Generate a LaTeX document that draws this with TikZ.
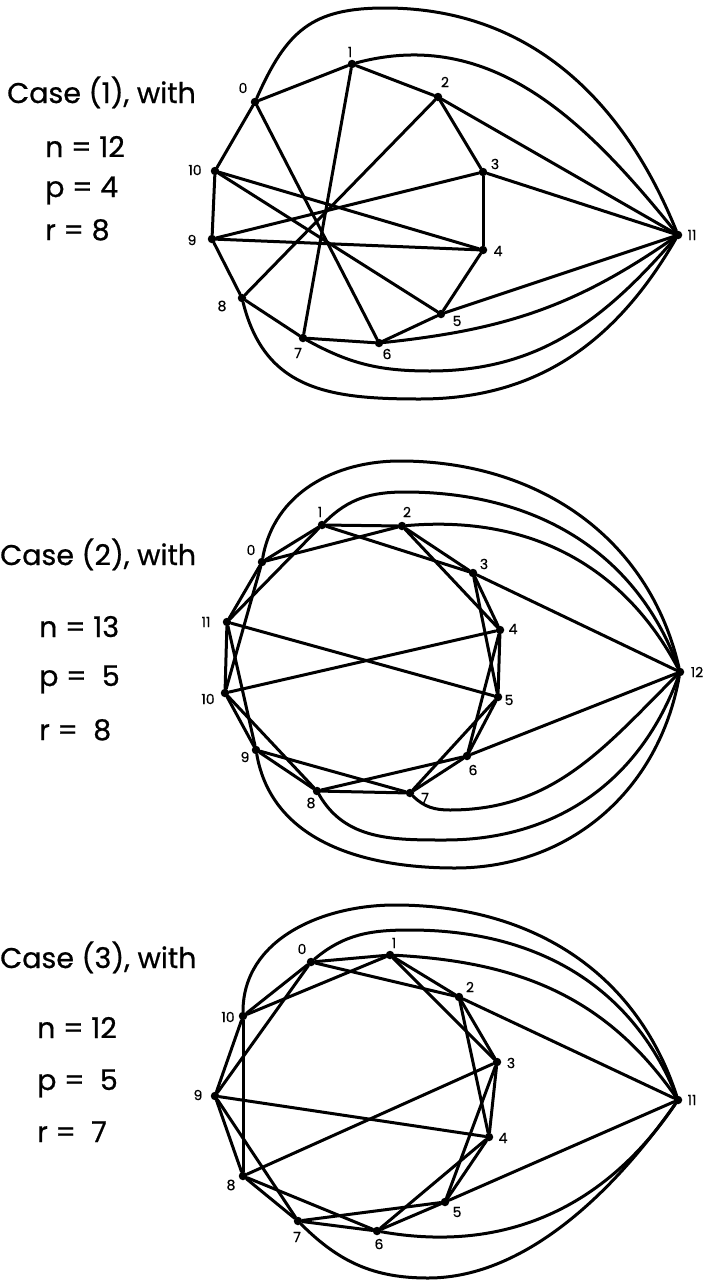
\documentclass[tikz,border=0pt]{standalone}
\usepackage{fontspec}
\setmainfont{Poppins}
\newfontfamily\ttlfont{Poppins}[FakeBold=0.7]
\newfontfamily\labfont{Poppins}[FakeBold=0.5]
\begin{document}
\begin{tikzpicture}[x=1pt,y=1pt,
  dot/.style={circle,fill=black,inner sep=0pt,minimum size=8.5pt},
  lab/.style={inner sep=0pt,font=\labfont\fontsize{14}{14}\selectfont},
  ttl/.style={inner sep=0pt,anchor=base west,font=\ttlfont\fontsize{28.5}{30}\selectfont},
  edge/.style={line width=3pt,line join=round,line cap=round},
]
\useasboundingbox (0,0) rectangle (709,-1280);

% ---------------- Case 1 ----------------
\node[ttl] (t1) at (7,-103) {Case (1), with};
\node[ttl] (n1) at (45,-157) {n = 12};
\node[ttl] (p1) at (45,-197) {p = 4};
\node[ttl] (r1) at (45,-240) {r = 8};

\foreach \i/\x/\y in {0/255/102,1/352/64,2/438/97,3/483/172,4/483/250,5/441/314,
  6/379/343,7/303/338,8/242/298,9/212/239,10/215/171,11/678/235}
  \node[dot] (A\i) at (\x,-\y) {};
\foreach \i/\x/\y in {0/243/88,1/350/52,2/445/82,3/495/164,4/498/251,5/457/321,
  6/387/354,7/298/353,8/222/306,9/192/240,10/195/170,11/692/235}
  \node[lab] (Al\i) at (\x,-\y) {\i};

\foreach \a/\b in {0/1,1/2,2/3,3/4,4/5,5/6,6/7,7/8,8/9,9/10,10/0,
  0/6,1/7,2/8,3/9,4/9,4/10,5/10,2/11,3/11,5/11}
  \draw[edge] (A\a) -- (A\b);
\draw[edge] (A0) to[out=66,in=180,looseness=1.2] (385,-8) to[out=0,in=112] (A11);
\draw[edge] (A1) to[out=15,in=129] (A11);
\draw[edge] (A6) to[out=6,in=215] (A11);
\draw[edge] (A7) to[out=-29,in=180] (430,-371) to[out=0,in=229] (A11);
\draw[edge] (A8) to[out=-76,in=180,looseness=1.15] (420,-399) to[out=0,in=240] (A11);

% ---------------- Case 2 ----------------
\node[ttl] (t2) at (0,-565) {Case (2), with};
\node[ttl] (n2) at (39,-637) {n = 13};
\node[ttl] (p2) at (39,-686) {p = \ 5};
\node[ttl] (r2) at (39,-740) {r = \ 8};

\foreach \i/\x/\y in {0/262/562,1/322/525,2/402/526,3/473/573,4/500/630,5/498/697,
  6/467/756,7/410/793,8/317/791,9/256/750,10/225/693,11/227/622,12/680/672}
  \node[dot] (B\i) at (\x,-\y) {};
\foreach \i/\x/\y in {0/251/550,1/320/512,2/407/512,3/484/564,4/513/629,5/509/700,
  6/473/770,7/425/798,8/311/803,9/245/757,10/208/699,11/206/622,12/697/672}
  \node[lab] (Bl\i) at (\x,-\y) {\i};

\foreach \a/\b in {0/1,1/2,2/3,3/4,4/5,5/6,6/7,7/8,8/9,9/10,10/11,11/0,
  0/2,1/3,2/4,3/5,4/6,5/7,6/8,7/9,8/10,9/11,10/0,11/1,
  10/4,11/5,3/12,6/12}
  \draw[edge] (B\a) -- (B\b);
\draw[edge] (B0) to[out=80,in=180] (400,-461) to[out=0,in=103] (B12);
\draw[edge] (B1) to[out=45,in=180] (405,-492) to[out=0,in=110] (B12);
\draw[edge] (B2) to[out=5,in=118] (B12);
\draw[edge] (B7) to[out=-45,in=180] (450,-810) to[out=0,in=225] (B12);
\draw[edge] (B8) to[out=-60,in=180] (445,-840) to[out=0,in=250] (B12);
\draw[edge] (B9) to[out=-80,in=180] (455,-868) to[out=0,in=260] (B12);

% ---------------- Case 3 ----------------
\node[ttl] (t3) at (0,-968) {Case (3), with};
\node[ttl] (n3) at (37,-1038) {n = 12};
\node[ttl] (p3) at (37,-1090) {p = \ 5};
\node[ttl] (r3) at (37,-1142) {r = \ 7};

\foreach \i/\x/\y in {0/311/962,1/390/955,2/459/997,3/497/1062,4/489/1137,5/445/1202,
  6/377/1231,7/298/1221,8/243/1176,9/215/1096,10/243/1016,11/678/1100}
  \node[dot] (C\i) at (\x,-\y) {};
\foreach \i/\x/\y in {0/302/949,1/394/943,2/470/987,3/511/1063,4/503/1138,5/457/1212,
  6/379/1244,7/297/1237,8/231/1185,9/198/1095,10/228/1017,11/692/1100}
  \node[lab] (Cl\i) at (\x,-\y) {\i};

\foreach \a/\b in {0/1,1/2,2/3,3/4,4/5,5/6,6/7,7/8,8/9,9/10,10/0,
  0/2,1/3,2/4,3/5,4/6,5/7,6/8,7/9,8/10,9/0,10/1,
  9/4,8/3,2/11,5/11}
  \draw[edge] (C\a) -- (C\b);
\draw[edge] (C10) to[out=90,in=180] (395,-905) to[out=0,in=108] (C11);
\draw[edge] (C0) to[out=40,in=180] (410,-930) to[out=0,in=112] (C11);
\draw[edge] (C1) to[out=-3,in=125] (C11);
\draw[edge] (C6) to[out=-10,in=236] (C11);
\draw[edge] (C7) to[out=-45,in=180] (428,-1278) to[out=0,in=235,looseness=0.85] (C11);
\end{tikzpicture}
\end{document}
